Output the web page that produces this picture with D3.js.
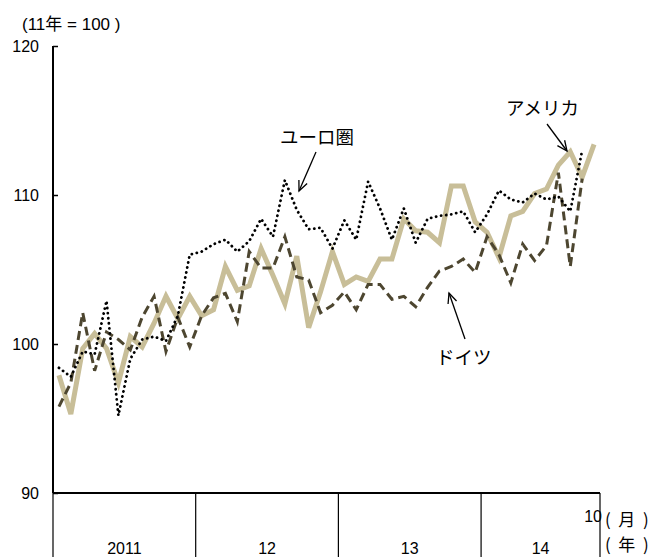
<!DOCTYPE html>
<html>
<head>
<meta charset="utf-8">
<script src="https://cdn.jsdelivr.net/npm/d3@7"></script>
<style>
  html, body { margin: 0; padding: 0; background: #fff; }
  svg { display: block; }
  text { font-family: "Liberation Sans", Arial, sans-serif; fill: #000; }
  .jp { font-family: "Noto Sans CJK JP", "Noto Sans", sans-serif; }
</style>
</head>
<body>
<svg id="chart" width="655" height="557"></svg>
<script>
// Months from Jan 2011 to Oct 2014
const months = [
  "2011-01","2011-02","2011-03","2011-04","2011-05","2011-06","2011-07","2011-08","2011-09","2011-10","2011-11","2011-12",
  "2012-01","2012-02","2012-03","2012-04","2012-05","2012-06","2012-07","2012-08","2012-09","2012-10","2012-11","2012-12",
  "2013-01","2013-02","2013-03","2013-04","2013-05","2013-06","2013-07","2013-08","2013-09","2013-10","2013-11","2013-12",
  "2014-01","2014-02","2014-03","2014-04","2014-05","2014-06","2014-07","2014-08","2014-09","2014-10"
];

// Index (2011 = 100)
const usa = [
  97.9, 95.3, 99.7, 100.7, 99.7, 97.4, 100.5, 99.8, 101.4, 103.2, 101.7, 103.2,
  101.9, 102.3, 105.2, 103.6, 103.9, 106.4, 104.6, 102.7, 105.9, 101.1, 103.5, 106.2,
  104.0, 104.5, 104.2, 105.7, 105.7, 108.4, 107.6, 107.5, 106.8, 110.6, 110.6, 108.2,
  107.5, 105.8, 108.6, 108.9, 110.1, 110.4, 112.0, 112.9, 111.2, 113.4
];
const germany = [
  95.8, 97.4, 102.1, 98.2, 100.8, 100.3, 99.6, 101.8, 103.2, 99.5, 101.8, 99.8,
  101.9, 103.1, 103.4, 101.5, 106.2, 105.1, 105.1, 107.2, 104.5, 104.3, 102.1, 102.6,
  103.5, 102.3, 104.0, 104.0, 103.0, 103.2, 102.5, 103.8, 104.9, 105.2, 105.7, 104.8,
  107.2, 106.0, 104.1, 106.7, 105.6, 106.6, 111.5, 105.2, 111.1
];
const euro = [
  98.4, 97.8, 99.5, 99.3, 102.9, 95.2, 99.0, 100.3, 100.5, 100.2, 101.9, 106.0,
  106.2, 106.7, 107.0, 106.2, 106.9, 108.4, 107.2, 111.0, 109.0, 107.7, 107.8, 106.4,
  108.3, 107.0, 110.9, 109.1, 107.0, 109.1, 106.8, 108.4, 108.6, 108.7, 108.9, 107.5,
  108.7, 110.3, 109.7, 109.5, 110.1, 109.7, 109.9, 108.9, 113.0
];

const yTicks = [90, 100, 110, 120];
const yearLabels = ["2011", "12", "13", "14"];

const svg = d3.select("#chart");
const plotLeft = 53, plotRight = 600, plotTop = 46, plotBottom = 493;

const x = d3.scaleBand().domain(months).range([plotLeft, plotRight]).padding(0);
const y = d3.scaleLinear().domain([90, 120]).range([plotBottom, plotTop]);
const cx = i => x(months[i]) + x.bandwidth() / 2;

// Y axis: ticks pointing inward
const yAxis = d3.axisRight(y).tickValues(yTicks).tickSize(5).tickFormat("");
const yg = svg.append("g").attr("transform", `translate(${plotLeft},0)`).call(yAxis);
yg.select(".domain").attr("stroke", "#000").attr("stroke-width", 2).attr("d", `M0,${plotTop}V${plotBottom}`);
yg.selectAll(".tick line").attr("stroke", "#000").attr("stroke-width", 1.5);

svg.append("g").selectAll("text").data(yTicks).join("text")
  .attr("x", 39).attr("y", d => y(d) + 6)
  .attr("text-anchor", "end").attr("font-size", 16)
  .text(d => d);

// X axis baseline
svg.append("line").attr("x1", plotLeft).attr("x2", plotRight).attr("y1", plotBottom).attr("y2", plotBottom)
  .attr("stroke", "#000").attr("stroke-width", 2);

// Year separators
const yearStarts = yearLabels.map((_, k) => x(months[k * 12]));
const seps = yearStarts.concat([plotRight]);
svg.append("g").selectAll("line").data(seps).join("line")
  .attr("x1", d => d).attr("x2", d => d)
  .attr("y1", plotBottom).attr("y2", 557)
  .attr("stroke", "#000").attr("stroke-width", 1.2);

svg.append("g").selectAll("text").data(yearLabels).join("text")
  .attr("x", (d, k) => (seps[k] + seps[k + 1]) / 2)
  .attr("y", 554).attr("text-anchor", "middle").attr("font-size", 16)
  .text(d => d);

// Last month label and unit labels
svg.append("text").attr("x", plotRight + 2).attr("y", 522).attr("text-anchor", "end")
  .attr("font-size", 16).text("10");
svg.append("text").attr("class", "jp").attr("x", 605).attr("y", 526).attr("font-size", 17)
  .attr("xml:space", "preserve").text("(  月  )");
svg.append("text").attr("class", "jp").attr("x", 605).attr("y", 551).attr("font-size", 17)
  .attr("xml:space", "preserve").text("(  年  )");

// Base-year note
const note = svg.append("text").attr("x", 22).attr("y", 30).attr("font-size", 17)
  .attr("xml:space", "preserve");
note.append("tspan").text("(11");
note.append("tspan").attr("class", "jp").text("年");
note.append("tspan").text(" = 100 )");

// Series lines
const line = d3.line().x((d, i) => cx(i)).y(d => y(d));

svg.append("path").datum(usa).attr("d", line)
  .attr("fill", "none").attr("stroke", "#c8be98").attr("stroke-width", 5)
  .attr("stroke-linejoin", "miter");

svg.append("path").datum(germany).attr("d", line)
  .attr("fill", "none").attr("stroke", "#4d4630").attr("stroke-width", 3)
  .attr("stroke-dasharray", "9,5");

svg.append("path").datum(euro).attr("d", line)
  .attr("fill", "none").attr("stroke", "#000").attr("stroke-width", 2.8)
  .attr("stroke-linecap", "round").attr("stroke-dasharray", "0.1,5");

// Callout labels with arrows
function arrow(x1, y1, x2, y2) {
  svg.append("line").attr("x1", x1).attr("y1", y1).attr("x2", x2).attr("y2", y2)
    .attr("stroke", "#000").attr("stroke-width", 1.3);
  const a = Math.atan2(y2 - y1, x2 - x1), L = 11, s = 0.42;
  svg.append("path")
    .attr("d", `M${x2 - L * Math.cos(a - s)},${y2 - L * Math.sin(a - s)}L${x2},${y2}L${x2 - L * Math.cos(a + s)},${y2 - L * Math.sin(a + s)}`)
    .attr("fill", "none").attr("stroke", "#000").attr("stroke-width", 1.3);
}

svg.append("text").attr("class", "jp").attr("x", 280).attr("y", 144).attr("font-size", 18.5).text("ユーロ圏");
arrow(316, 152, 299, 191);

svg.append("text").attr("class", "jp").attr("x", 506).attr("y", 115).attr("font-size", 18.5).text("アメリカ");
arrow(547, 124, 567, 151);

svg.append("text").attr("class", "jp").attr("x", 436).attr("y", 364).attr("font-size", 18.5).text("ドイツ");
arrow(465, 339, 449, 293);
</script>
</body>
</html>
